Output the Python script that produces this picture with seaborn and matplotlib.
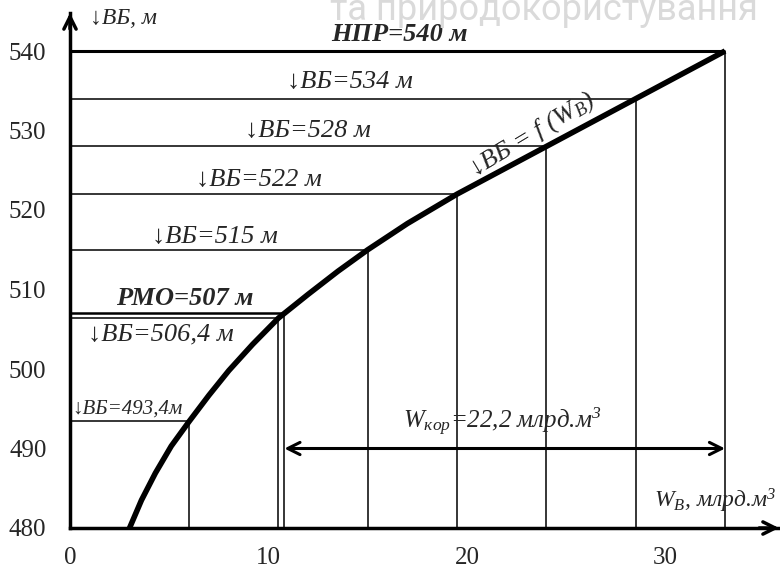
import matplotlib
matplotlib.use("Agg")
import matplotlib.pyplot as plt
import seaborn as sns
import numpy as np

# ---- data ----
curve_w = [3.0, 3.6, 4.3, 5.1, 6.0, 7.0, 8.0, 9.2, 10.5, 10.8, 12.0, 13.5, 15.0, 17.0, 19.5, 24.0, 28.5, 33.0]
curve_z = [480.0, 483.5, 486.9, 490.3, 493.4, 496.7, 499.8, 503.1, 506.4, 507.0, 509.4, 512.3, 515.0, 518.3, 522.0, 528.0, 534.0, 540.0]

levels = [540, 534, 528, 522, 515, 507, 506.4, 493.4]
level_w = [33.0, 28.5, 24.0, 19.5, 15.0, 10.8, 10.5, 6.0]
level_labels = ["НПР=540 м", "↓ВБ=534 м", "↓ВБ=528 м", "↓ВБ=522 м", "↓ВБ=515 м",
                "РМО=507 м", "↓ВБ=506,4 м", "↓ВБ=493,4м"]
x_ticks = [0, 10, 20, 30]
y_ticks = [480, 490, 500, 510, 520, 530, 540]
w_kor = 22.2

sns.set_style("white")
serif = ["Liberation Serif", "DejaVu Serif"]
plt.rcParams["font.family"] = serif
plt.rcParams["mathtext.fontset"] = "custom"
plt.rcParams["mathtext.rm"] = "Liberation Serif:italic"
plt.rcParams["mathtext.it"] = "Liberation Serif:italic"

fig = plt.figure(figsize=(7.8, 5.69), dpi=100)
ax_left, ax_right, ax_bot_px, ax_top_px = 70, 779, 528, 13
ax = fig.add_axes([ax_left / 780, 1 - ax_bot_px / 569, (ax_right - ax_left) / 780,
                   (ax_bot_px - ax_top_px) / 569])
xmax = (ax_right - ax_left) / 19.85
ymax = 480 + (ax_bot_px - ax_top_px) / 7.95
ax.set_xlim(0, xmax)
ax.set_ylim(480, ymax)

# level lines
lws = [2.2, 1.1, 1.1, 1.1, 1.1, 1.8, 1.1, 1.1]
for lv, w, lw in zip(levels, level_w, lws):
    ax.hlines(lv, 0, w, color="black", lw=lw, zorder=2)
    ax.vlines(w, 480, lv, color="black", lw=1.1, zorder=2)

# curve
sns.lineplot(x=curve_w, y=curve_z, sort=False, color="black", lw=4.0, ax=ax, zorder=4,
             solid_capstyle="butt")

# W_kor arrow
ax.annotate("", xy=(level_w[5], 490), xytext=(level_w[0], 490),
            arrowprops=dict(arrowstyle="<->", lw=2.2, color="black", mutation_scale=22,
                            shrinkA=0, shrinkB=0), zorder=5)

# spines / ticks
for s in ["top", "right"]:
    ax.spines[s].set_visible(False)
for s in ["left", "bottom"]:
    ax.spines[s].set_linewidth(2.5)
    ax.spines[s].set_color("black")
    ax.spines[s].set_zorder(6)
ax.set_xticks(x_ticks)
ax.set_xticks(np.arange(2, 35, 2), minor=True)
ax.set_yticks(y_ticks)
ax.set_yticks(np.arange(485, 540, 10), minor=True)
ax.tick_params(axis="both", which="both", direction="out", length=8, width=2.2, color="black")
ax.tick_params(axis="x", which="major", pad=6, labelsize=18)
ax.tick_params(axis="y", which="major", pad=9, labelsize=18)
ax.set_xticklabels([str(t) for t in x_ticks])
ax.set_yticklabels([str(t) for t in y_ticks])

# axis arrows
ax.annotate("", xy=(xmax, 480), xytext=(xmax - 1.0, 480),
            arrowprops=dict(arrowstyle="->", lw=2.5, color="black", mutation_scale=22,
                            shrinkA=0, shrinkB=0), annotation_clip=False)
ax.annotate("", xy=(0, ymax), xytext=(0, ymax - 2.0),
            arrowprops=dict(arrowstyle="->", lw=2.5, color="black", mutation_scale=22,
                            shrinkA=0, shrinkB=0), annotation_clip=False)

# texts
pos = [(16.6, 542.1), (14.1, 536.1), (12.0, 529.9), (9.5, 523.8), (7.3, 516.6),
       (5.8, 508.9), (4.6, 504.3), (2.9, 495.0)]
for (x, y), t in zip(pos, level_labels):
    bold = t.startswith("НПР") or t.startswith("РМО")
    size = 15 if "493" in t else 19
    ax.text(x, y, t, ha="center", va="center", fontsize=size, fontstyle="italic",
            fontweight="bold" if bold else "normal", family=serif, zorder=7)

ax.text(1.0, 544.1, "↓ВБ, м", ha="left", va="center", fontsize=17, fontstyle="italic",
        family=serif, clip_on=False)
ax.text(23.3, 529.4, "↓ВБ = $f$ ($W_В$)", ha="center", va="center", fontsize=19,
        fontstyle="italic", rotation=31, rotation_mode="anchor", family=serif, zorder=7)
ax.text(21.8, 493.3, "$W_{кор}$=22,2 млрд.м$^3$", ha="center", va="center", fontsize=18,
        fontstyle="italic", family=serif, zorder=7)
ax.text(32.5, 483.4, "$W_В$, млрд.м$^3$", ha="center", va="center", fontsize=17,
        fontstyle="italic", family=serif, zorder=7, clip_on=False)

# faint watermark at top (cut off at the top edge, as in the reference)
fig.text(330 / 780, 1 - 20 / 569, "та природокористування", fontsize=26, color="#dadada",
         family=["Roboto", "DejaVu Sans"], ha="left", va="baseline", zorder=0)

fig.savefig("out.png", dpi=100)
